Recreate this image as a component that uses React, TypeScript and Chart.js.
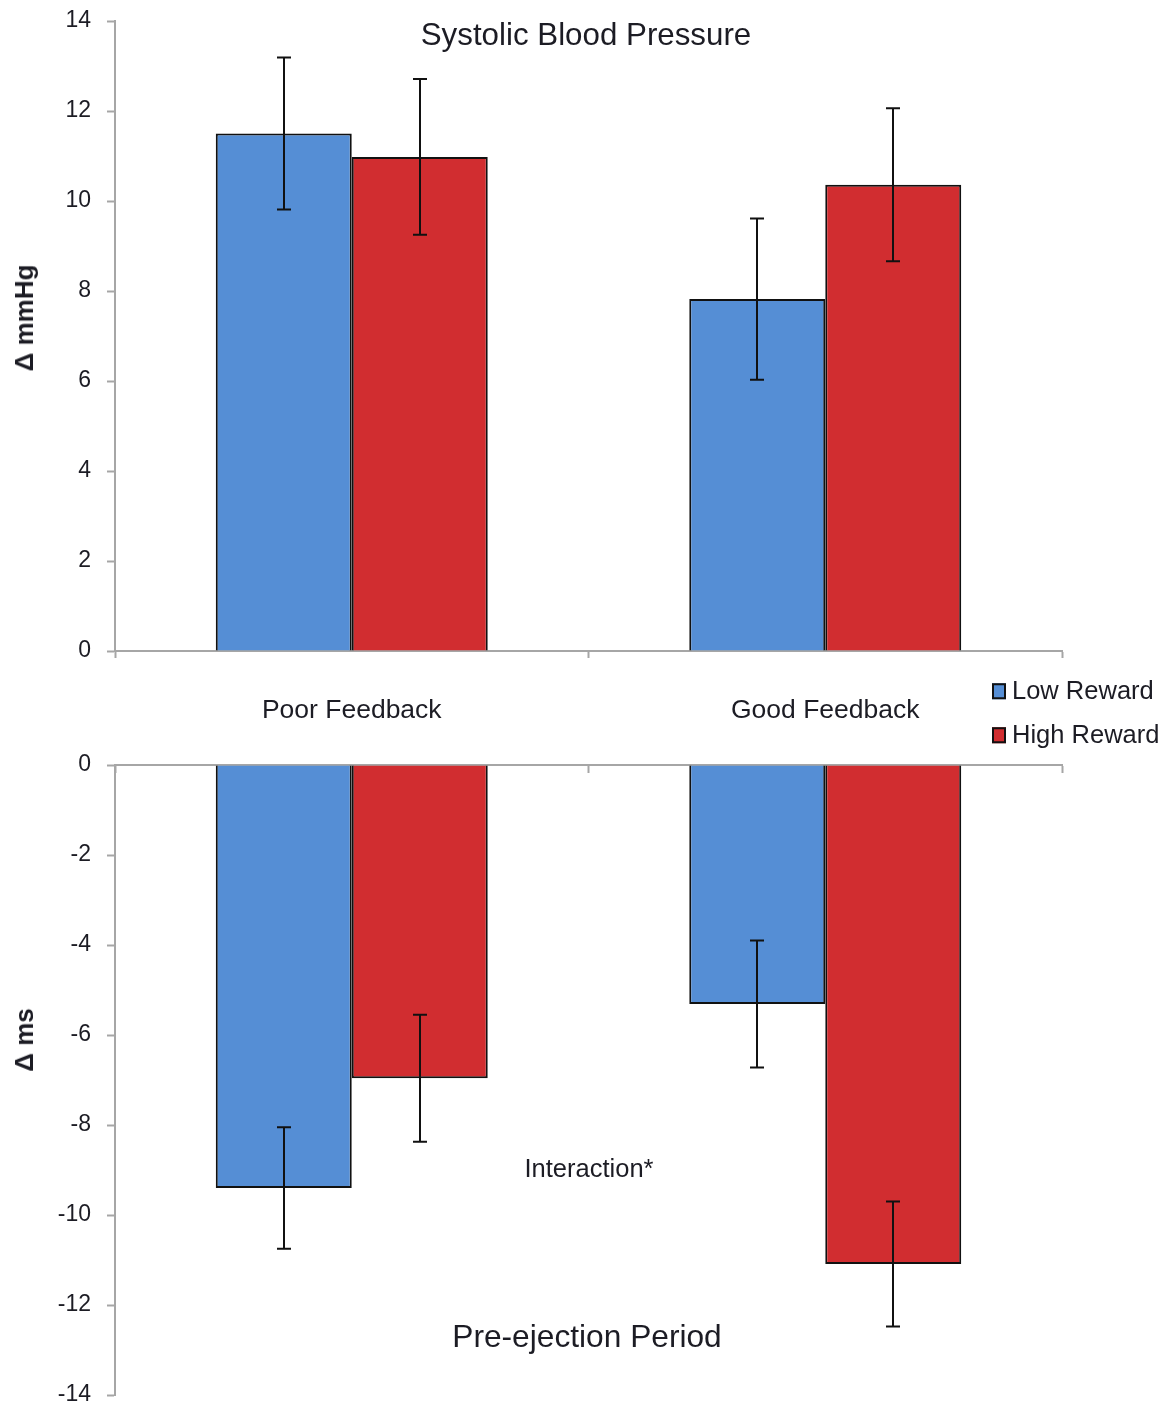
import React, { useEffect, useRef } from "react";
import { Chart, registerables } from "chart.js";

Chart.register(...registerables);

const categories = ["Poor Feedback", "Good Feedback"];
const seriesNames = ["Low Reward", "High Reward"];
const sbpLow = [11.5, 7.82];
const sbpHigh = [10.98, 10.36];
const sbpLowErr = [1.69, 1.79];
const sbpHighErr = [1.73, 1.7];
const pepLow = [-9.4, -5.31];
const pepHigh = [-6.96, -11.09];
const pepLowErr = [1.35, 1.41];
const pepHighErr = [1.41, 1.39];
const sbpTicks = [0, 2, 4, 6, 8, 10, 12, 14];
const pepTicks = [0, -2, -4, -6, -8, -10, -12, -14];

const BLUE = "#558ED5";
const RED = "#D12D30";
const AXIS = "#A6A6A6";
const TEXT = "#1c1c24";
const FONT = "'Liberation Sans', Arial, sans-serif";

const errorBarPlugin = {
  id: "errorBars",
  afterDatasetsDraw(chart: any) {
    const errs = chart.options.plugins.errorBars.errors as number[][];
    const ctx = chart.ctx;
    const yScale = chart.scales.y;
    ctx.save();
    ctx.strokeStyle = "#111";
    ctx.lineWidth = 2;
    chart.data.datasets.forEach((ds: any, i: number) => {
      const meta = chart.getDatasetMeta(i);
      meta.data.forEach((bar: any, j: number) => {
        const v = ds.data[j];
        const e = errs[i][j];
        const x = Math.round(bar.x);
        const y1 = yScale.getPixelForValue(v + e);
        const y2 = yScale.getPixelForValue(v - e);
        ctx.beginPath();
        ctx.moveTo(x, y1);
        ctx.lineTo(x, y2);
        ctx.moveTo(x - 7, y1);
        ctx.lineTo(x + 7, y1);
        ctx.moveTo(x - 7, y2);
        ctx.lineTo(x + 7, y2);
        ctx.stroke();
      });
    });
    ctx.restore();
  },
};

function makeConfig(
  low: number[],
  high: number[],
  lowErr: number[],
  highErr: number[],
  ticks: number[],
  top: boolean
): any {
  const min = Math.min(...ticks);
  const max = Math.max(...ticks);
  return {
    type: "bar",
    data: {
      labels: categories,
      datasets: [
        {
          label: seriesNames[0],
          data: low,
          backgroundColor: BLUE,
          borderColor: "#111",
          borderWidth: 2,
          barPercentage: 1,
          categoryPercentage: 0.5744,
        },
        {
          label: seriesNames[1],
          data: high,
          backgroundColor: RED,
          borderColor: "#111",
          borderWidth: 2,
          barPercentage: 1,
          categoryPercentage: 0.5744,
        },
      ],
    },
    options: {
      animation: false,
      responsive: false,
      maintainAspectRatio: false,
      events: [],
      layout: {
        padding: top
          ? { left: 0, right: 106, top: 21, bottom: 0 }
          : { left: 0, right: 106, top: 35, bottom: 17 },
      },
      plugins: {
        legend: { display: false },
        tooltip: { enabled: false },
        errorBars: { errors: [lowErr, highErr] },
      },
      scales: {
        x: {
          position: top ? "bottom" : { y: 0 },
          offset: true,
          grid: {
            offset: true,
            drawOnChartArea: false,
            drawTicks: true,
            tickLength: 7,
            tickWidth: 2,
            tickColor: AXIS,
          },
          border: { display: true, color: AXIS, width: 2 },
          ticks: {
            display: top,
            padding: 37,
            color: TEXT,
            font: { family: FONT, size: 26.5 },
          },
          afterFit: (scale: any) => {
            if (top) scale.height = 79;
            scale.paddingLeft = 0;
            scale.paddingRight = 0;
          },
        },
        y: {
          min,
          max,
          afterBuildTicks: (scale: any) => {
            scale.ticks = ticks.map((v) => ({ value: v }));
          },
          grid: {
            drawOnChartArea: false,
            drawTicks: true,
            tickLength: 8,
            tickWidth: 2,
            tickColor: AXIS,
          },
          border: { display: true, color: AXIS, width: 2 },
          ticks: {
            padding: 16,
            color: TEXT,
            font: { family: FONT, size: 23 },
          },
          afterFit: (scale: any) => {
            scale.width = 115;
            scale.paddingTop = 0;
            scale.paddingBottom = 0;
          },
        },
      },
    },
    plugins: [errorBarPlugin],
  };
}

function BarPanel(props: {
  low: number[];
  high: number[];
  lowErr: number[];
  highErr: number[];
  ticks: number[];
  top: boolean;
  width: number;
  height: number;
}) {
  const ref = useRef<HTMLCanvasElement | null>(null);
  useEffect(() => {
    if (!ref.current) return;
    const chart = new Chart(
      ref.current,
      makeConfig(props.low, props.high, props.lowErr, props.highErr, props.ticks, props.top)
    );
    return () => chart.destroy();
  }, []);
  return (
    <canvas
      ref={ref}
      width={props.width}
      height={props.height}
      style={{ display: "block", width: props.width, height: props.height }}
    />
  );
}

const textBase: React.CSSProperties = {
  position: "absolute",
  fontFamily: FONT,
  color: TEXT,
  whiteSpace: "nowrap",
  lineHeight: 1,
};

export default function App() {
  return (
    <div
      style={{
        position: "absolute",
        left: 0,
        top: 0,
        width: 1168,
        height: 1412,
        background: "#fff",
        overflow: "hidden",
      }}
    >
      <div style={{ position: "absolute", left: 0, top: 0 }}>
        <BarPanel
          low={sbpLow}
          high={sbpHigh}
          lowErr={sbpLowErr}
          highErr={sbpHighErr}
          ticks={sbpTicks}
          top={true}
          width={1168}
          height={730}
        />
      </div>
      <div style={{ position: "absolute", left: 0, top: 730 }}>
        <BarPanel
          low={pepLow}
          high={pepHigh}
          lowErr={pepLowErr}
          highErr={pepHighErr}
          ticks={pepTicks}
          top={false}
          width={1168}
          height={682}
        />
      </div>
      <div
        style={{
          ...textBase,
          left: 586,
          top: 35,
          fontSize: 31.3,
          transform: "translate(-50%, -50%)",
        }}
      >
        Systolic Blood Pressure
      </div>
      <div
        style={{
          ...textBase,
          left: 587,
          top: 1337,
          fontSize: 31.7,
          transform: "translate(-50%, -50%)",
        }}
      >
        Pre-ejection Period
      </div>
      <div
        style={{
          ...textBase,
          left: 589,
          top: 1169,
          fontSize: 25.5,
          transform: "translate(-50%, -50%)",
        }}
      >
        Interaction*
      </div>
      <div
        style={{
          ...textBase,
          left: 24,
          top: 318,
          fontSize: 26,
          fontWeight: "bold",
          transform: "translate(-50%, -50%) rotate(-90deg)",
        }}
      >
        Δ mmHg
      </div>
      <div
        style={{
          ...textBase,
          left: 24,
          top: 1040,
          fontSize: 26,
          fontWeight: "bold",
          transform: "translate(-50%, -50%) rotate(-90deg)",
        }}
      >
        Δ ms
      </div>
      {seriesNames.map((name, i) => (
        <div
          key={name}
          style={{
            ...textBase,
            left: 992,
            top: i === 0 ? 691 : 735,
            fontSize: 25.5,
            transform: "translateY(-50%)",
            display: "flex",
            alignItems: "center",
          }}
        >
          <span
            style={{
              display: "inline-block",
              width: 10,
              height: 12,
              border: "2px solid #111",
              background: i === 0 ? BLUE : RED,
              marginRight: 6,
            }}
          />
          <span>{name}</span>
        </div>
      ))}
    </div>
  );
}
